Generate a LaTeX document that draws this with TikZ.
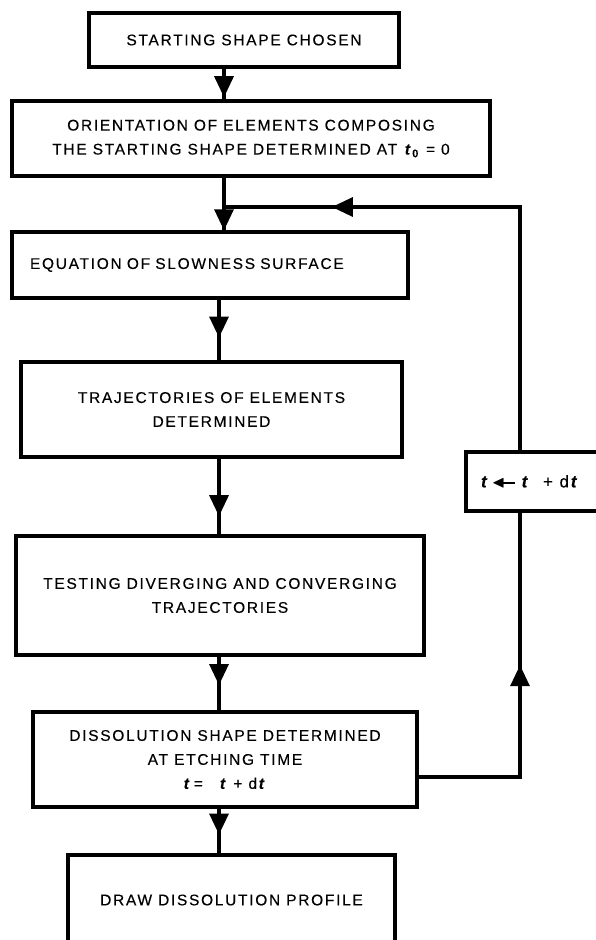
\documentclass[tikz,border=0pt]{standalone}
\usepackage{amssymb}
\usepackage{fontspec}
\setmainfont{Liberation Sans}[LetterSpace=11,FakeBold=0.3]
\usepackage{tikz}
\usetikzlibrary{arrows.meta}
\usetikzlibrary{decorations.markings}

\newcommand{\tv}{\textbf{\textit{t}}}
\newcommand{\getsarrow}{\mbox{$\blacktriangleleft$\kern-2pt\rule[0.42ex]{0.7em}{1.4pt}}}

\begin{document}
\begin{tikzpicture}[x=1pt,y=-1pt,line width=3.2pt,
  arrowat/.style={postaction={decorate},decoration={markings,
    mark=at position #1 with {\arrow{Triangle[width=19pt,length=21pt]}}}},
  box/.style={draw,rectangle,line width=3.2pt,inner sep=0pt,align=center,
    font=\fontsize{15.5}{24}\selectfont}]
  \useasboundingbox (0,0) rectangle (596,940);

  \node[box,minimum width=310pt,minimum height=54pt] (start) at (244,40) {STARTING SHAPE CHOSEN};
  \node[box,minimum width=478pt,minimum height=75pt] (orient) at (251,138.5)
    {ORIENTATION OF ELEMENTS COMPOSING\\THE STARTING SHAPE DETERMINED AT \tv\textsubscript{\textbf{0}} = 0};
  \node[box,text width=360pt,inner xsep=18pt,align=left,minimum height=66pt] (slow) at (210,265)
    {EQUATION OF SLOWNESS SURFACE};
  \node[box,minimum width=381pt,minimum height=95pt] (traj) at (211.5,409.5)
    {TRAJECTORIES OF ELEMENTS\\DETERMINED};
  \node[box,minimum width=408pt,minimum height=119pt] (test) at (220,595.5)
    {TESTING DIVERGING AND CONVERGING\\TRAJECTORIES};
  \node[box,minimum width=384pt,minimum height=95pt] (diss) at (225,759.5)
    {DISSOLUTION SHAPE DETERMINED\\AT ETCHING TIME\\\tv\,=\quad\tv\ + d\tv};
  \node[box,minimum width=327pt,minimum height=90pt] (profile) at (231.5,900)
    {DRAW DISSOLUTION PROFILE};
  \node[box,minimum width=136pt,minimum height=59pt,font=\fontsize{17}{24}\selectfont] (incr) at (534,481.5)
    {\hspace*{-8pt}\tv\,\getsarrow\ \tv\ \ + d\tv};

  \coordinate (upx) at (224,0);
  \coordinate (lox) at (219,0);
  \coordinate (rx) at (520,0);
  \coordinate (join) at (224,207);
  \coordinate (corner) at (520,207);

  \draw[arrowat=0.93] (start.south -| upx) -- (orient.north -| upx);
  \draw[arrowat=0.999] (orient.south -| upx) -- (slow.north -| upx);
  \draw[arrowat=0.8] (incr.north -| rx) -- (corner) -- (join);
  \draw[arrowat=0.625] (slow.south -| lox) -- (traj.north -| lox);
  \draw[arrowat=0.76] (traj.south -| lox) -- (test.north -| lox);
  \draw[arrowat=0.53] (test.south -| lox) -- (diss.north -| lox);
  \draw[arrowat=0.58] (diss.south -| lox) -- (profile.north -| lox);
  \draw[arrowat=0.583] ([yshift=-17.5pt]diss.east) -| (incr.south -| rx);
\end{tikzpicture}
\end{document}
